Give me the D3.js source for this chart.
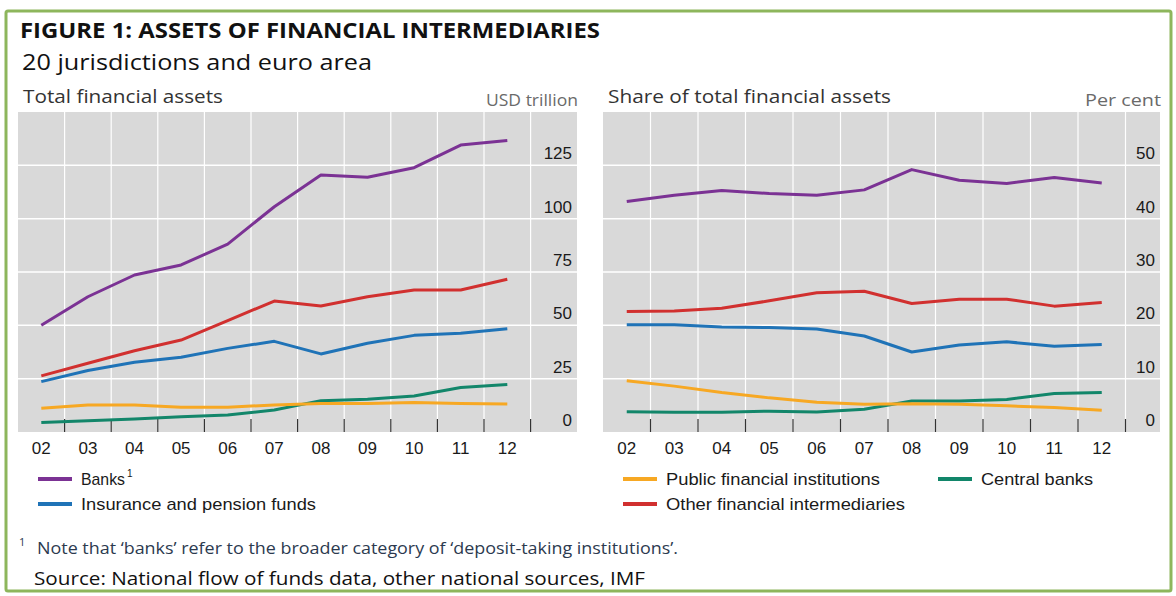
<!DOCTYPE html>
<html>
<head>
<meta charset="utf-8">
<script src="https://cdn.jsdelivr.net/npm/d3@7"></script>
<style>
  body { margin: 0; background: #fff; }
  svg { display: block; }
</style>
</head>
<body>
<div id="chart"></div>
<script>
// years on the x axis
const years = ['02', '03', '04', '05', '06', '07', '08', '09', '10', '11', '12'];

// Total financial assets, USD trillion
const banksTotal = [50, 63.4, 73.6, 78.3, 88.1, 105.6, 120.5, 119.4, 123.9, 134.5, 136.6];
const otherTotal = [26.3, 32.2, 38.1, 43.1, 52.2, 61.4, 59.1, 63.4, 66.6, 66.6, 71.6];
const insuranceTotal = [23.6, 28.8, 32.7, 35, 39.2, 42.5, 36.6, 41.6, 45.3, 46.3, 48.4];
const publicTotal = [11.1, 12.7, 12.7, 11.6, 11.6, 12.7, 13.4, 13.4, 13.8, 13.4, 13.1];
const centralTotal = [4.5, 5.3, 6.1, 7.2, 8, 10.3, 14.7, 15.3, 16.9, 20.9, 22.3];

// Share of total financial assets, per cent
const banksShare = [43.2, 44.4, 45.3, 44.7, 44.4, 45.4, 49.2, 47.2, 46.6, 47.7, 46.7];
const otherShare = [22.6, 22.7, 23.2, 24.6, 26.1, 26.4, 24.1, 24.9, 24.9, 23.6, 24.3];
const insuranceShare = [20.1, 20.1, 19.7, 19.6, 19.3, 18, 15, 16.3, 16.9, 16.1, 16.4];
const publicShare = [9.6, 8.6, 7.4, 6.4, 5.6, 5.2, 5.3, 5.2, 4.9, 4.6, 4.1];
const centralShare = [3.8, 3.7, 3.7, 3.9, 3.75, 4.25, 5.8, 5.8, 6.1, 7.2, 7.4];

const totalTicks = [0, 25, 50, 75, 100, 125];
const shareTicks = [0, 10, 20, 30, 40, 50];

const colors = {
  banks: '#7b3294',
  insurance: '#1f73b7',
  public: '#f7a823',
  central: '#12866a',
  other: '#d1302f'
};

const width = 1176;
const height = 596;
const svg = d3.select('#chart').append('svg')
  .attr('width', width)
  .attr('height', height);

svg.append('rect').attr('width', width).attr('height', height).attr('fill', '#fff');
svg.append('rect')
  .attr('x', 6).attr('y', 11).attr('width', 1165).attr('height', 580)
  .attr('fill', 'none').attr('stroke', '#8db65c').attr('stroke-width', 3).attr('rx', 2);

const titleFont = "'Open Sans', 'Noto Sans', sans-serif";
const axisFont = "'Liberation Sans Narrow', 'Liberation Sans', Arial, sans-serif";

// fitted text: the reference fonts are wider than what is installed
function fitText(sel, len) {
  return sel.attr('textLength', len).attr('lengthAdjust', 'spacingAndGlyphs');
}

fitText(svg.append('text').attr('x', 20).attr('y', 38)
  .style('font-family', titleFont).style('font-weight', 700).style('font-size', '21px')
  .attr('fill', '#111').text('FIGURE 1: ASSETS OF FINANCIAL INTERMEDIARIES'), 580);
fitText(svg.append('text').attr('x', 22).attr('y', 70)
  .style('font-family', titleFont).style('font-size', '22px')
  .attr('fill', '#111').text('20 jurisdictions and euro area'), 350);

function drawPanel(opt) {
  const { left, right, band, top, bottom, max, ticks, series, title, titleLen, unit, unitLen } = opt;
  const x = d3.scaleLinear().domain([0, 1]).range([left + band / 2, left + band * 1.5]);
  const y = d3.scaleLinear().domain([0, max]).range([bottom, top]);
  const g = svg.append('g');

  fitText(g.append('text').attr('x', left + 5).attr('y', top - 9)
    .style('font-family', titleFont).style('font-size', '19px')
    .attr('fill', '#333').text(title), titleLen);
  fitText(g.append('text').attr('x', right + 1).attr('y', top - 6)
    .attr('text-anchor', 'end')
    .style('font-family', titleFont).style('font-size', '16px')
    .attr('fill', '#6a6a6a').text(unit), unitLen);

  g.append('rect')
    .attr('x', left).attr('y', top).attr('width', right - left).attr('height', bottom - top)
    .attr('fill', '#d9d9d9');

  const between = years.map((d, i) => i + 0.5);
  g.selectAll('.vgrid').data(between).enter().append('line')
    .attr('x1', d => x(d)).attr('x2', d => x(d))
    .attr('y1', top).attr('y2', bottom)
    .attr('stroke', '#fff').attr('stroke-width', 1.2);
  g.selectAll('.hgrid').data(ticks.filter(d => d > 0)).enter().append('line')
    .attr('x1', left).attr('x2', right)
    .attr('y1', d => y(d)).attr('y2', d => y(d))
    .attr('stroke', '#fff').attr('stroke-width', 1.5);
  g.selectAll('.tick-mark').data(between).enter().append('line')
    .attr('x1', d => x(d)).attr('x2', d => x(d))
    .attr('y1', bottom - 13).attr('y2', bottom)
    .attr('stroke', '#333').attr('stroke-width', 1.2);

  g.selectAll('.ylab').data(ticks).enter().append('text')
    .attr('x', right - 5).attr('y', d => y(d) - 6)
    .attr('text-anchor', 'end')
    .style('font-family', axisFont).style('font-size', '17px')
    .attr('fill', '#1a1a1a').text(d => d);
  g.selectAll('.xlab').data(years).enter().append('text')
    .attr('x', (d, i) => x(i)).attr('y', bottom + 22)
    .attr('text-anchor', 'middle')
    .style('font-family', axisFont).style('font-size', '17px')
    .attr('fill', '#1a1a1a').text(d => d);

  const line = d3.line().x((d, i) => x(i)).y(d => y(d));
  g.selectAll('.series').data(series).enter().append('path')
    .attr('d', d => line(d.values))
    .attr('fill', 'none')
    .attr('stroke', d => d.color)
    .attr('stroke-width', 3)
    .attr('stroke-linejoin', 'round');
}

drawPanel({
  left: 18, right: 577, band: 46.6, top: 112, bottom: 432, max: 150,
  ticks: totalTicks, title: 'Total financial assets', titleLen: 200,
  unit: 'USD trillion', unitLen: 92,
  series: [
    { values: banksTotal, color: colors.banks },
    { values: insuranceTotal, color: colors.insurance },
    { values: otherTotal, color: colors.other },
    { values: centralTotal, color: colors.central },
    { values: publicTotal, color: colors.public }
  ]
});

drawPanel({
  left: 603, right: 1160, band: 47.5, top: 112, bottom: 432, max: 60,
  ticks: shareTicks, title: 'Share of total financial assets', titleLen: 283,
  unit: 'Per cent', unitLen: 76,
  series: [
    { values: banksShare, color: colors.banks },
    { values: insuranceShare, color: colors.insurance },
    { values: otherShare, color: colors.other },
    { values: centralShare, color: colors.central },
    { values: publicShare, color: colors.public }
  ]
});

// legend
const legendItems = [
  { name: 'Banks', sup: '1', len: 44, color: colors.banks, x: 38, y: 479 },
  { name: 'Insurance and pension funds', len: 235, color: colors.insurance, x: 38, y: 504 },
  { name: 'Public financial institutions', len: 214, color: colors.public, x: 623, y: 479 },
  { name: 'Other financial intermediaries', len: 239, color: colors.other, x: 623, y: 504 },
  { name: 'Central banks', len: 112, color: colors.central, x: 938, y: 479 }
];
const legend = svg.append('g').selectAll('g').data(legendItems).enter().append('g')
  .attr('transform', d => `translate(${d.x},${d.y})`);
legend.append('line')
  .attr('x1', 0).attr('x2', 34).attr('y1', 0).attr('y2', 0)
  .attr('stroke', d => d.color).attr('stroke-width', 4);
legend.append('text').attr('x', 43).attr('y', 6)
  .style('font-family', axisFont).style('font-size', '17px').attr('fill', '#1a1a1a')
  .attr('textLength', d => d.len).attr('lengthAdjust', 'spacingAndGlyphs')
  .text(d => d.name);
legend.filter(d => d.sup).append('text')
  .attr('x', d => 43 + d.len + 2).attr('y', -2)
  .style('font-family', axisFont).style('font-size', '10px').attr('fill', '#1a1a1a')
  .text(d => d.sup);

// footnote and source
svg.append('text').attr('x', 19).attr('y', 546)
  .style('font-family', titleFont).style('font-size', '11px').attr('fill', '#2c3a4f')
  .text('1');
fitText(svg.append('text').attr('x', 37).attr('y', 554)
  .style('font-family', titleFont).style('font-size', '16px').attr('fill', '#2c3a4f')
  .text('Note that \u2018banks\u2019 refer to the broader category of \u2018deposit-taking institutions\u2019.'), 641);
fitText(svg.append('text').attr('x', 34).attr('y', 585)
  .style('font-family', titleFont).style('font-size', '19px').attr('fill', '#111')
  .text('Source: National flow of funds data, other national sources, IMF'), 611);
</script>
</body>
</html>
